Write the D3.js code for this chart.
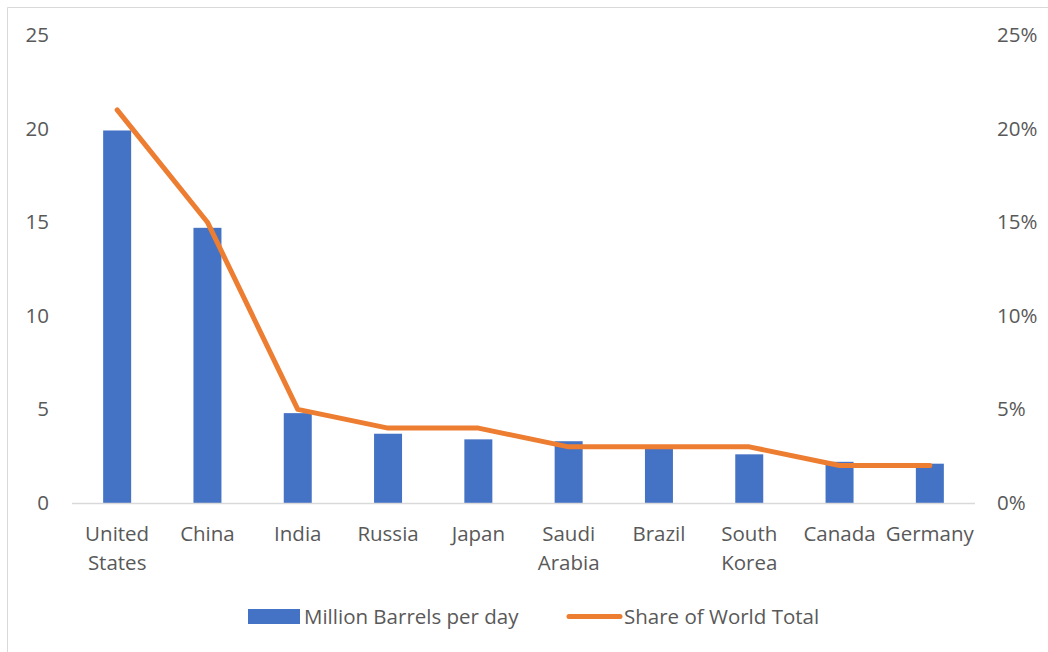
<!DOCTYPE html>
<html>
<head>
<meta charset="utf-8">
<script src="https://cdn.jsdelivr.net/npm/d3@7"></script>
<style>
  html, body { margin: 0; padding: 0; background: #fff; }
  svg { display: block; }
  text { font-family: "Open Sans", sans-serif; fill: #595959; }
</style>
</head>
<body>
<svg id="chart" width="1048" height="652"></svg>
<script>
// Top oil-consuming countries
const countries = ["United States", "China", "India", "Russia", "Japan",
                   "Saudi Arabia", "Brazil", "South Korea", "Canada", "Germany"];
const barrels = [19.9, 14.7, 4.8, 3.7, 3.4, 3.3, 3.0, 2.6, 2.2, 2.1];
const share = [0.21, 0.15, 0.05, 0.04, 0.04, 0.03, 0.03, 0.03, 0.02, 0.02];
const leftTicks = [0, 5, 10, 15, 20, 25];
const rightTicks = [0, 0.05, 0.10, 0.15, 0.20, 0.25];
const seriesNames = ["Million Barrels per day", "Share of World Total"];

const W = 1048, H = 652;
const plot = { left: 72, right: 975, top: 35, bottom: 503 };
const fontSize = 20.5;

const svg = d3.select("#chart");

// Chart area frame (only the top and left edges fall inside the view)
svg.append("path")
  .attr("d", `M7.5,${H} V7.5 H${W}`)
  .attr("fill", "none")
  .attr("stroke", "#d9d9d9")
  .attr("stroke-width", 1);

const x = d3.scaleBand().domain(countries).range([plot.left, plot.right]).paddingInner(0.69).paddingOuter(0.345);
const yL = d3.scaleLinear().domain([0, 25]).range([plot.bottom, plot.top]);
const yR = d3.scaleLinear().domain([0, 0.25]).range([plot.bottom, plot.top]);

// Bars
svg.append("g").selectAll("rect")
  .data(countries)
  .join("rect")
  .attr("x", d => x(d))
  .attr("y", (d, i) => yL(barrels[i]))
  .attr("width", x.bandwidth())
  .attr("height", (d, i) => yL(0) - yL(barrels[i]))
  .attr("fill", "#4472c4");

// Category axis line
svg.append("line")
  .attr("x1", plot.left).attr("x2", plot.right)
  .attr("y1", plot.bottom + 0.5).attr("y2", plot.bottom + 0.5)
  .attr("stroke", "#d9d9d9").attr("stroke-width", 1.5);

// Left value axis
const axL = d3.axisLeft(yL).tickValues(leftTicks).tickSize(0).tickPadding(0).tickFormat(d3.format("d"));
const gL = svg.append("g").attr("transform", "translate(49,0)").call(axL);
gL.select(".domain").remove();
gL.selectAll("text").attr("font-size", fontSize).attr("font-family", null).attr("fill", "#595959");

// Right value axis
const axR = d3.axisRight(yR).tickValues(rightTicks).tickSize(0).tickPadding(0).tickFormat(d3.format(".0%"));
const gR = svg.append("g").attr("transform", "translate(997,0)").call(axR);
gR.select(".domain").remove();
gR.selectAll("text").attr("font-size", fontSize).attr("font-family", null).attr("fill", "#595959");

// Category labels, wrapped onto two lines where needed
const centre = d => x(d) + x.bandwidth() / 2;
const labels = svg.append("g").selectAll("text")
  .data(countries)
  .join("text")
  .attr("x", centre)
  .attr("y", 541)
  .attr("text-anchor", "middle")
  .attr("font-size", fontSize);
labels.each(function (d) {
  const words = d.split(" ");
  const t = d3.select(this);
  words.forEach((w, k) => {
    t.append("tspan").attr("x", centre(d)).attr("dy", k === 0 ? 0 : 29).text(w);
  });
});

// Share line
const line = d3.line()
  .x((d, i) => centre(countries[i]))
  .y(d => yR(d));
svg.append("path")
  .datum(share)
  .attr("d", line)
  .attr("fill", "none")
  .attr("stroke", "#ed7d31")
  .attr("stroke-width", 5)
  .attr("stroke-linecap", "round")
  .attr("stroke-linejoin", "round");

// Legend
const lg = svg.append("g");
lg.append("rect").attr("x", 248).attr("y", 609).attr("width", 52).attr("height", 15).attr("fill", "#4472c4");
lg.append("text").attr("x", 304).attr("y", 624).attr("font-size", fontSize).text(seriesNames[0]);
lg.append("line").attr("x1", 569).attr("x2", 620).attr("y1", 616.5).attr("y2", 616.5)
  .attr("stroke", "#ed7d31").attr("stroke-width", 5).attr("stroke-linecap", "round");
lg.append("text").attr("x", 624).attr("y", 624).attr("font-size", fontSize).text(seriesNames[1]);
</script>
</body>
</html>
